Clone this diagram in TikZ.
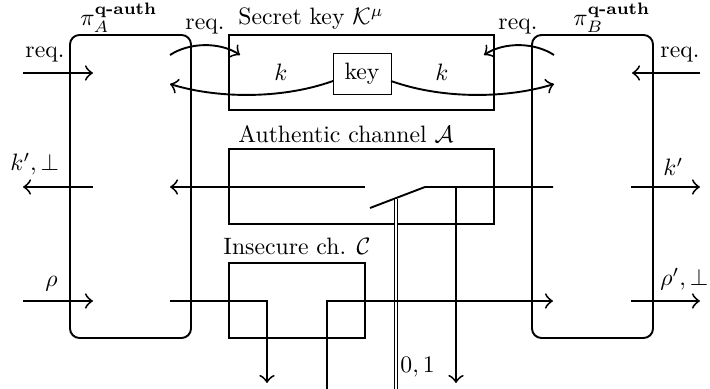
\documentclass[tikz,border=0pt]{standalone}
\usepackage{amsmath}
\usetikzlibrary{fit,calc,arrows.meta}
\begin{document}
\begin{tikzpicture}[x=0.01483cm, y=-0.01483cm,
  >={Classical TikZ Rightarrow[scale=1.3]},
  box/.style={draw, thick, inner sep=0pt},
  pbox/.style={box, rounded corners=4pt},
  keybox/.style={draw, inner sep=0pt, minimum width=24.5pt, minimum height=17.3pt},
  lbl/.style={inner sep=0pt, anchor=base west},
  wire/.style={thick},
  arr/.style={thick,->},
  dwire/.style={double, double distance=0.6pt}]
\useasboundingbox (0,0) rectangle (710,389);

% boxes
\node[pbox, fit={(70,35) (191,338)}] (pA) {};
\node[pbox, fit={(532,35) (653,338)}] (pB) {};
\node[box, fit={(229,35) (494,110)}] (K) {};
\node[box, fit={(229,149) (494,224)}] (Auth) {};
\node[box, fit={(229,263) (365,338)}] (Ins) {};
\node[keybox] (key) at (362,73.5) {key};

% titles
\node[lbl] (tA) at (80,26) {$\pi_A^{\textbf{q-auth}}$};
\node[lbl] (tB) at (573,26) {$\pi_B^{\textbf{q-auth}}$};
\node[lbl] (tK) at (238,25) {Secret key $\mathcal{K}^\mu$};
\node[lbl] (tAu) at (238,143) {Authentic channel $\mathcal{A}$};
\node[lbl] (tIn) at (223,255) {Insecure ch. $\mathcal{C}$};

% coordinates
\coordinate (inA) at (23,73);
\coordinate (inAe) at (93,73);
\coordinate (inB) at (700,73);
\coordinate (inBe) at (632,73);
\coordinate (rqA) at (170,55);
\coordinate (rqAe) at (240,55);
\coordinate (rqB) at (554,55);
\coordinate (rqBe) at (484,55);
\coordinate (kA) at (170,84);
\coordinate (kB) at (554,84);
\coordinate (kLs) at (333,81);
\coordinate (kRs) at (391,81);

% req. inputs
\draw[arr] (inA) -- (inAe);
\node[lbl] (lreqA) at (25,58) {req.};
\draw[arr] (inB) -- (inBe);
\node[lbl] (lreqB) at (660,58) {req.};

% req. to key
\draw[arr] (rqA) .. controls (190,42) and (220,42) .. (rqAe);
\node[lbl] (lrqA) at (185,30) {req.};
\draw[arr] (rqB) .. controls (534,42) and (504,42) .. (rqBe);
\node[lbl] (lrqB) at (498,30) {req.};

% key outputs
\draw[arr] (kLs) .. controls (280,100) and (215,98) .. (kA);
\draw[arr] (kRs) .. controls (444,100) and (509,98) .. (kB);
\node[inner sep=0pt] (lk1) at (281,72) {$k$};
\node[inner sep=0pt] (lk2) at (442,72) {$k$};

% authentic channel
\coordinate (aL) at (365,187);
\coordinate (aLe) at (170,187);
\draw[arr] (aL) -- (aLe);
\coordinate (oA) at (93,187);
\coordinate (oAe) at (23,187);
\draw[arr] (oA) -- (oAe);
\node[lbl] (lkA) at (10,171) {$k',\bot$};
\coordinate (sw1) at (370,208);
\coordinate (sw2) at (425,187);
\coordinate (aR) at (553,187);
\draw[wire] (sw1) -- (sw2) -- (aR);
\coordinate (tap) at (456,187);
\coordinate (tapE) at (456,383);
\draw[arr] (tap) -- (tapE);
\coordinate (ctl) at (396,199);
\coordinate (ctlE) at (396,392);
\draw[dwire] (ctl) -- (ctlE);
\node[lbl] (l01) at (400,373) {$0,1$};
\coordinate (oB) at (631,187);
\coordinate (oBe) at (700,187);
\draw[arr] (oB) -- (oBe);
\node[lbl] (lkB) at (663,176) {$k'$};

% insecure channel
\coordinate (rin) at (23,301);
\coordinate (rinE) at (93,301);
\draw[arr] (rin) -- (rinE);
\node[lbl] (lrho) at (45,287) {$\rho$};
\coordinate (e1) at (170,301);
\coordinate (e1c) at (267,301);
\coordinate (e1e) at (267,383);
\draw[arr] (e1) -- (e1c) -- (e1e);
\coordinate (e2) at (327,392);
\coordinate (e2c) at (327,301);
\coordinate (e2e) at (553,301);
\draw[arr] (e2) -- (e2c) -- (e2e);
\coordinate (rout) at (631,301);
\coordinate (routE) at (700,301);
\draw[arr] (rout) -- (routE);
\node[lbl] (lrhoB) at (660,286) {$\rho',\bot$};
\end{tikzpicture}
\end{document}
